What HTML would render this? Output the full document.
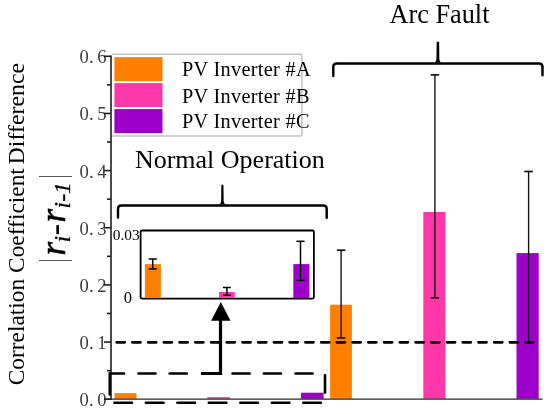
<!DOCTYPE html>
<html>
<head>
<meta charset="utf-8">
<style>
html,body{margin:0;padding:0;background:#fff;}
body{width:550px;height:414px;overflow:hidden;}
svg{display:block;}
text{font-family:"Liberation Serif","Times New Roman",serif;}
</style>
</head>
<body>
<svg width="550" height="414" viewBox="0 0 550 414">
<rect x="0" y="0" width="550" height="414" fill="#fff"/>

<!-- y axis title -->
<text transform="translate(24.4,385.3) rotate(-90)" font-size="23.4" fill="#000">Correlation Coefficient <tspan x="220.9" font-size="23.85">Difference</tspan></text>

<!-- math label |r_i - r_{i-1}| -->
<g fill="#000">
  <text transform="translate(64.3,262.2) rotate(-90) scale(1,2.06)" font-size="17" fill="#222">|</text>
  <text transform="translate(65.3,255.4) rotate(-90)" font-size="35" font-style="italic" stroke="#000" stroke-width="0.55">r</text>
  <text transform="translate(70,242.2) rotate(-90)" font-size="23" font-style="italic" stroke="#000" stroke-width="0.3">i</text>
  <text transform="translate(66,235.5) rotate(-90)" font-size="35">-</text>
  <text transform="translate(65.3,222.5) rotate(-90)" font-size="35" font-style="italic" stroke="#000" stroke-width="0.55">r</text>
  <text transform="translate(70,208.4) rotate(-90)" font-size="23.5" font-style="italic" stroke="#000" stroke-width="0.3">i-1</text>
  <text transform="translate(64.3,178.1) rotate(-90) scale(1,2.06)" font-size="17" fill="#222">|</text>
</g>

<!-- y tick labels -->
<g font-size="18.6" fill="#3c3c3c" text-anchor="end" word-spacing="-1" transform="translate(0.5,0)">
  <text x="106" y="63.2">0. 6</text>
  <text x="106" y="120.4">0. 5</text>
  <text x="106" y="177.5">0. 4</text>
  <text x="106" y="234.7">0. 3</text>
  <text x="106" y="291.8">0. 2</text>
  <text x="106" y="349.0">0. 1</text>
  <text x="106" y="406.1">0. 0</text>
</g>

<!-- axes -->
<g stroke="#1e1e1e" stroke-width="1.6" fill="none">
  <line x1="111" y1="55.50" x2="111" y2="399.9"/>
  <line x1="104" y1="399.20" x2="111" y2="399.20"/>
  <line x1="104" y1="342.05" x2="111" y2="342.05"/>
  <line x1="104" y1="284.90" x2="111" y2="284.90"/>
  <line x1="104" y1="227.75" x2="111" y2="227.75"/>
  <line x1="104" y1="170.60" x2="111" y2="170.60"/>
  <line x1="104" y1="113.45" x2="111" y2="113.45"/>
  <line x1="104" y1="56.30" x2="111" y2="56.30"/>
  <line x1="107" y1="370.62" x2="111" y2="370.62"/>
  <line x1="107" y1="313.47" x2="111" y2="313.47"/>
  <line x1="107" y1="256.32" x2="111" y2="256.32"/>
  <line x1="107" y1="199.17" x2="111" y2="199.17"/>
  <line x1="107" y1="142.02" x2="111" y2="142.02"/>
  <line x1="107" y1="84.87" x2="111" y2="84.87"/>
</g>

<!-- main bars -->
<g>
  <rect x="114.5" y="393.1" width="22" height="5.7" fill="#FF8000"/>
  <rect x="207.3" y="397.2" width="22.7" height="1.6" fill="#F0309A"/>
  <rect x="301" y="392.7" width="22.6" height="6.1" fill="#9D00C9"/>
  <rect x="330.1" y="304.7" width="21.8" height="94.1" fill="#FF8000"/>
  <rect x="423.3" y="212" width="22.1" height="186.8" fill="#FF38A9"/>
  <rect x="516.5" y="253.1" width="22.2" height="145.7" fill="#9D00C9"/>
</g>

<line x1="105" y1="399.2" x2="542.7" y2="399.2" stroke="#2a2a2a" stroke-width="1.3"/>

<!-- main error bars -->
<g stroke="#151515" stroke-width="1.7" fill="none">
  <line x1="341.1" y1="250.2" x2="341.1" y2="337.9" stroke-width="1.4"/>
  <line x1="336.8" y1="250.2" x2="345.4" y2="250.2"/>
  <line x1="336.8" y1="337.9" x2="345.4" y2="337.9"/>
  <line x1="434.9" y1="74.9" x2="434.9" y2="297.8" stroke-width="1.4"/>
  <line x1="430.7" y1="74.9" x2="439.1" y2="74.9"/>
  <line x1="430.7" y1="297.8" x2="439.1" y2="297.8"/>
  <line x1="528.6" y1="171.5" x2="528.6" y2="341.9" stroke-width="1.4"/>
  <line x1="524.3" y1="171.5" x2="532.9" y2="171.5"/>
  <line x1="524.3" y1="341.9" x2="532.9" y2="341.9"/>
</g>

<!-- 0.1 dashed line -->
<line x1="116.6" y1="342.35" x2="533.2" y2="342.35" stroke="#000" stroke-width="2.6" stroke-linecap="round" stroke-dasharray="8.2 7.53"/>

<!-- legend -->
<path d="M112 54.3 L300.4 54.3 Q301.9 54.3 301.9 55.8 L301.9 134.5 Q301.9 136 300.4 136 L112 136" fill="none" stroke="#c2c2c2" stroke-width="1.5"/>
<rect x="114.4" y="57.1" width="48.1" height="24" fill="#FF8000"/>
<rect x="114.4" y="83.1" width="48.1" height="23.9" fill="#FF38A9"/>
<rect x="114.4" y="109.1" width="48.1" height="24" fill="#9D00C9"/>
<g font-size="20.3" fill="#000" letter-spacing="0.3">
  <text x="182" y="76">PV Inverter #A</text>
  <text x="182" y="102.7">PV Inverter #B</text>
  <text x="182" y="127.8">PV Inverter #C</text>
</g>

<!-- titles -->
<text x="389.4" y="23.2" font-size="26.3" fill="#000">Arc Fault</text>
<text x="134.9" y="168.2" font-size="26" fill="#000">Normal Operation</text>

<!-- brackets -->
<g stroke="#000" stroke-width="2.45" fill="none" stroke-linecap="round" stroke-linejoin="round">
  <path d="M118 217.6 L118 208.9 Q118 205.5 121.4 205.5 L323.3 205.5 Q326.7 205.5 326.7 208.9 L326.7 217.8"/>
  <path fill="#000" stroke="none" d="M221.35 185.20 Q222.40 183.80 223.45 185.20 L223.65 201.00 Q223.85 204.60 227.20 204.60 L217.60 204.60 Q220.95 204.60 221.15 201.00 Z"/>
  <path d="M333.3 75.9 L333.3 66.8 Q333.3 63.4 336.7 63.4 L539.1 63.4 Q542.5 63.4 542.5 66.8 L542.5 75.3"/>
  <path fill="#000" stroke="none" d="M436.65 42.20 Q437.90 40.80 439.15 42.20 L439.35 58.90 Q439.55 62.50 442.70 62.50 L433.10 62.50 Q436.25 62.50 436.45 58.90 Z"/>
</g>

<!-- inset -->
<g>
  <rect x="140.6" y="230.5" width="173.3" height="68.1" rx="1.5" fill="#fff" stroke="#000" stroke-width="1.8" stroke-linejoin="round"/>
  <rect x="144.9" y="264.1" width="16" height="34" fill="#FF8000"/>
  <rect x="219" y="292" width="15.7" height="6" fill="#FF38A9"/>
  <rect x="293.3" y="264.1" width="16.1" height="34" fill="#9D00C9"/>
  <g stroke="#000" stroke-width="1.5" fill="none">
    <line x1="152.7" y1="259" x2="152.7" y2="268.9"/>
    <line x1="148.6" y1="259" x2="156.8" y2="259"/>
    <line x1="148.6" y1="268.9" x2="156.8" y2="268.9"/>
    <line x1="226.9" y1="287.5" x2="226.9" y2="295.2"/>
    <line x1="222.9" y1="287.5" x2="230.9" y2="287.5"/>
    <line x1="222.9" y1="295.2" x2="230.9" y2="295.2"/>
    <line x1="300.5" y1="241.3" x2="300.5" y2="280.3"/>
    <line x1="296.4" y1="241.3" x2="304.6" y2="241.3"/>
    <line x1="296.4" y1="280.3" x2="304.6" y2="280.3"/>
  </g>
  <text x="112.7" y="239.5" font-size="15.4" fill="#000">0.03</text>
  <text x="123.7" y="302.6" font-size="16.5" fill="#000">0</text>
</g>

<!-- dashed box + arrow -->
<g stroke="#000" stroke-width="2.6" fill="none" stroke-linecap="round">
  <polyline points="109.7,394.6 109.7,373.5 124.1,373.5" stroke-linejoin="miter" stroke-width="2.4"/>
  <line x1="138.4" y1="373.5" x2="155.5" y2="373.5"/>
  <line x1="169.7" y1="373.5" x2="186.8" y2="373.5"/>
  <line x1="232.5" y1="373.5" x2="249.6" y2="373.5"/>
  <line x1="263.9" y1="373.5" x2="281.0" y2="373.5"/>
  <line x1="295.5" y1="373.5" x2="312.6" y2="373.5"/>
  <line x1="325" y1="375.4" x2="325" y2="392.6"/>
  <line x1="114.4" y1="402.8" x2="132.0" y2="402.8"/>
  <line x1="145.9" y1="402.8" x2="163.5" y2="402.8"/>
  <line x1="177.4" y1="402.8" x2="195.0" y2="402.8"/>
  <line x1="208.8" y1="402.8" x2="226.4" y2="402.8"/>
  <line x1="240.3" y1="402.8" x2="257.9" y2="402.8"/>
  <line x1="271.8" y1="402.8" x2="289.4" y2="402.8"/>
  <line x1="303.3" y1="402.8" x2="320.9" y2="402.8"/>
  <polyline points="200.9,373.5 220.5,373.5 220.5,318" stroke-width="3.2" stroke-linecap="butt" stroke-linejoin="miter"/>
</g>
<polygon points="220.8,302 211.1,320.8 230.5,320.8" fill="#000"/>

</svg>
</body>
</html>
